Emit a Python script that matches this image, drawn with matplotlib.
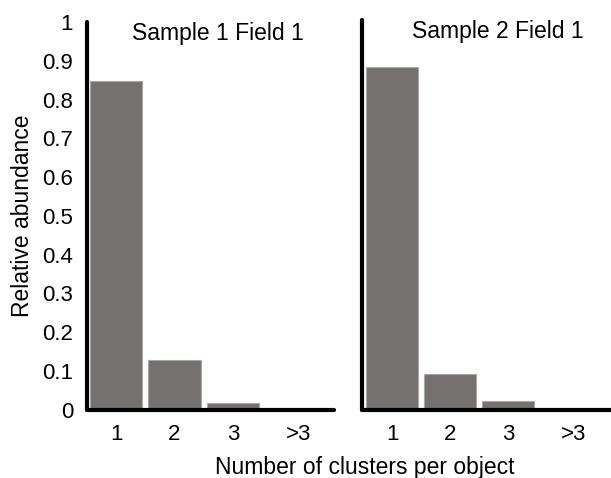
import numpy as np
import matplotlib.pyplot as plt

plt.rcParams['font.family'] = ['Liberation Sans', 'DejaVu Sans']

categories = ['1', '2', '3', '>3']
sample1 = [0.848, 0.128, 0.017, 0.001]
sample2 = [0.880, 0.092, 0.023, 0.001]
titles = ['Sample 1 Field 1', 'Sample 2 Field 1']

bar_col = '#757170'
edge_col = '#a9a7a7'

fig = plt.figure(figsize=(6.11, 4.78), dpi=100)
ax1 = fig.add_axes([0.1424, 0.1428, 0.405, 0.811])
ax2 = fig.add_axes([0.592, 0.142, 0.42, 0.816])

x = np.arange(len(categories))
for ax, vals, ttl, xl in [(ax1, sample1, titles[0], (-0.5, 3.74)),
                          (ax2, sample2, titles[1], (-0.53, 3.9))]:
    ax.bar(x, vals, width=0.9, color=bar_col, edgecolor=edge_col, linewidth=0.8)
    ax.set_xlim(*xl)
    ax.set_ylim(0, 1)
    ax.set_xticks([0, 1, 2, 3.13])
    ax.set_xticklabels(categories)
    ax.tick_params(axis='both', length=0, labelsize=16)
    ax.tick_params(axis='x', pad=10)
    ax.tick_params(axis='y', pad=10)
    for s in ['top', 'right']:
        ax.spines[s].set_visible(False)
    for s in ['left', 'bottom']:
        ax.spines[s].set_linewidth(3.0)
        ax.spines[s].set_capstyle('round')
    ax.text(0.53, 1.0, ttl, transform=ax.transAxes,
            ha='center', va='top', fontsize=16.5)

ax1.set_yticks(np.arange(0, 1.01, 0.1))
ax1.set_yticklabels(['0', '0.1', '0.2', '0.3', '0.4', '0.5', '0.6', '0.7', '0.8', '0.9', '1'])
ax2.set_yticks([])
ax1.set_ylabel('Relative abundance', fontsize=16.5, labelpad=6)

fig.text(0.597, 0.045, 'Number of clusters per object', ha='center', va='top', fontsize=16.5)

fig.savefig('out.png', dpi=100)
